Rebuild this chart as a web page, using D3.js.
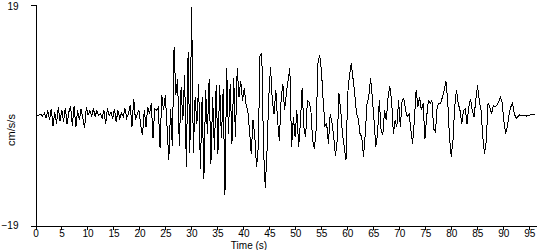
<!DOCTYPE html>
<html>
<head>
<meta charset="utf-8">
<script src="https://cdn.jsdelivr.net/npm/d3@7"></script>
<style>
  body { margin: 0; background: #fff; }
  svg { display: block; }
  text { font-family: "Liberation Sans", sans-serif; font-size: 11px; fill: #000; }
  .axis path, .axis line { stroke: #000; shape-rendering: crispEdges; }
</style>
</head>
<body>
<svg width="550" height="250"></svg>
<script>
// DATA
const dt = 0.3375 // seconds between samples
const accel = [
  0, 0, 0, 0.1,
  -0.2, 0.3, -0.5, 0.8, -0.9, 1.1, -1.9, 0.5, -1.5, 1.3, -1.0, 0.9,
  -1.2, 1.2, -1.6, 0.5, 1.5, -1.8, 1.5, -2.1, 0.8, -0.9, 1.1, -0.6, -2.2, 1.4, 0,
  0.8, -0.2, 1.1, -0.3, 0.8, -0.1, 0.2, -0.5, 0.9, -1.5, 1.1, -0.1, 0.5, -0.6, 1.1,
  -1.2, 0.8, -0.6, 0.3, -0.3, 1.1, -0.5, 0.2, 1.7, -2.0, 2.8, -0.9, 0.2, 0.8, -1.8,
  -3.5, 0.8, -2.0, 1.4, 0.2, 2.0, -3.9, 1.1, 0.8, 1.3, -5.6, 3.5, 0.8, 3.4, -2.0,
  -7.7, 1.0, -5.3, 11.7, 3.4, 6.2, -5.3, 4.8, -0.9, 6.8, -9.0, 10.9, -6.5, 18.5,
  -6.5, 3.1, -1.5, 5.4, -9.2, 3.1, -11.0, 4.3, -3.2, 6.2, -8.4, 3.1, -6.1, 5.1, -6.7, 5.1, -4.0, 4.5, -13.8,
  8.0, -3.2, 5.4, -4.9, 6.3, -3.8, 8.0, 3.1, 5.9, 2.5, 4.6, 1.9, 0.8, -2.6, -6.7, -0.9, -3.5, -9.0, -5.5, 10.3, 10.6, -6.0, -12.5,
  -6.1, 3.1, 8.3, 2.5, 0.2, 4.3, -0.9, -4.4, 2.5, 5.4, 0.8, 3.7, 6.0, 8.0, -5.5, -0.3, -3.8, 0.8, -5.5, -1.5, 4.7, -2.1, -3.8, 2.5, 2.2, 0.8, -4.4, -5.8, -2.6,
  8.9, 10.3, 7.7, 2.5, -1.8, -1.5, -4.9, 0.2, -1.2, -3.8, -7.0, -4.4, 3.7, 0.8, -3.2, -5.5, -7.8, 3.7, 6.8, 8.9, 6.3, 3.7, 0.2, -0.6, -3.2, -3.8, -7.2, -3.2, 2.0, 3.1,
  6.3, 3.1, -0.9, -5.5, -3.2, 2.5, -2.6, -3.5, 0.8, -0.9, 3.1, 4.9, 2.5, -3.2, -0.9, -2.1, 2.5, -2.1, 2.5, 2.8, 0.8, -0.3, 0.2, -2.6, -4.9, -0.9, 4.3, 1.4, 3.1, 0.8,
  2.0, -4.1, -0.3, 2.5, 2.0, 2.5, -2.4, -2.9, 1.4, 2.0, 2.0, 3.1, 4.3, 5.8, 2.5, -3.8, -7.2, -4.4, 1.4, 4.3, 2.0, 0.8, -1.5, 0.8, 1.1, -1.5, 1.4, 2.8, 0.8, -0.3,
  2.5, 5.1, 2.5, 0.8, -3.8, -6.7, -4.4, 2.0, 1.4, 0.2, 1.7, 1.4, 1.7, 2.2, 3.1, 2.2, -0.9, -3.2, -2.1, 0.2, 1.4, 2.0, 0.2, -0.6, -0.3, 0.0, -0.1, -0.1, 0.0, -0.2, -0.1, 0.0, 0.1, 0.1, 0.1
]
const xTicks = [0, 5, 10, 15, 20, 25, 30, 35, 40, 45, 50, 55, 60, 65, 70, 75, 80, 85, 90, 95]
const yTicks = [-19, 19]

// SETUP
const svg = d3.select("svg")

const scaleX = d3.scaleLinear()
	.domain([0, 96.3])
	.range([35.5, 536])

const scaleY = d3.scaleLinear()
	.domain([-19, 19])
	.range([225.5, 4.5])

const axisX = d3.axisBottom(scaleX)
	.tickValues(xTicks)
	.tickSizeInner(4)
	.tickSizeOuter(0)
	.tickPadding(0)

const axisY = d3.axisLeft(scaleY)
	.tickValues(yTicks)
	.tickSizeInner(5)
	.tickSizeOuter(0)
	.tickPadding(12)

svg
	.append("g")
	.attr("class", "axis x-axis")
	.attr("transform", "translate(0, 225.5)")
	.call(axisX)

const axisYGroup = svg
	.append("g")
	.attr("class", "axis y-axis")
	.attr("transform", "translate(35.5, 0)")
	.call(axisY)

svg.selectAll(".axis text")
	.style("font-family", "'Liberation Sans', sans-serif")
	.style("font-size", "10px")
	.attr("fill", "#000")

// keep the top label inside the picture
axisYGroup
	.selectAll(".tick text")
	.filter((d) => { return d === 19 })
	.attr("y", 2)

svg
	.append("text")
	.attr("x", 249)
	.attr("y", 248.5)
	.attr("text-anchor", "middle")
	.style("font-size", "10px")
	.text("Time (s)")

svg
	.append("text")
	.attr("transform", "translate(15, 130) rotate(-90)")
	.attr("text-anchor", "middle")
	.text("cm/s/s")

// TRACE
const line = d3.line()
	.x((d, i) => { return scaleX(i * dt) })
	.y((d, i) => { return scaleY(d) })

svg
	.append("path")
	.datum(accel)
	.attr("d", line)
	.attr("fill", "none")
	.attr("stroke", "#000")
	.attr("stroke-width", 1)
	.style("shape-rendering", "crispEdges")
</script>
</body>
</html>
